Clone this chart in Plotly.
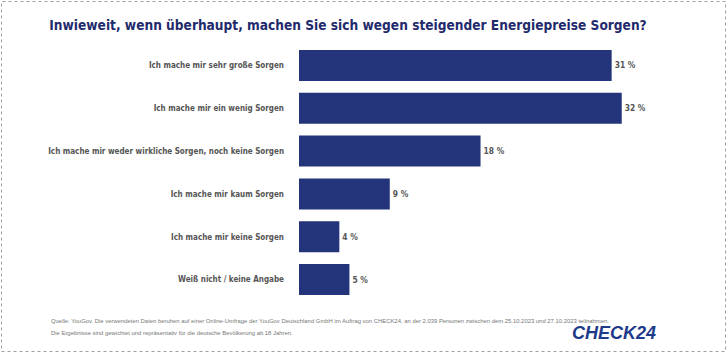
import plotly.graph_objects as go

categories = [
    "Ich mache mir sehr große Sorgen",
    "Ich mache mir ein wenig Sorgen",
    "Ich mache mir weder wirkliche Sorgen, noch keine Sorgen",
    "Ich mache mir kaum Sorgen",
    "Ich mache mir keine Sorgen",
    "Weiß nicht / keine Angabe",
]
values = [31, 32, 18, 9, 4, 5]
value_labels = [f"{v} %" for v in values]

title_text = "Inwieweit, wenn überhaupt, machen Sie sich wegen steigender Energiepreise Sorgen?"
source_lines = [
    "Quelle: YouGov. Die verwendeten Daten beruhen auf einer Online-Umfrage der YouGov Deutschland GmbH im Auftrag von CHECK24, an der 2.039 Personen zwischen dem 25.10.2023 und 27.10.2023 teilnahmen.",
    "Die Ergebnisse sind gewichtet und repräsentativ für die deutsche Bevölkerung ab 18 Jahren.",
]

W, H = 728, 353
ML, MR, MT, MB = 299, 76, 44, 52
PW, PH = W - ML - MR, H - MT - MB

def px_x(x):
    return (x - ML) / PW

def px_y(y):
    return (H - MB - y) / PH

NAVY = "#24347A"
GRAY = "#555555"
COND = "DejaVu Sans Condensed, sans-serif"

fig = go.Figure()
fig.add_trace(go.Bar(
    x=values,
    y=categories,
    orientation="h",
    marker=dict(color=NAVY, line=dict(width=0)),
    text=value_labels,
    textposition="outside",
    textfont=dict(family=COND, size=8.4, color=GRAY, weight="bold"),
    cliponaxis=False,
    hoverinfo="skip",
))

fig.update_layout(
    width=W, height=H,
    margin=dict(l=ML, r=MR, t=MT, b=MB, autoexpand=False),
    paper_bgcolor="white",
    plot_bgcolor="white",
    bargap=0.275,
    showlegend=False,
    title=dict(
        text=title_text,
        font=dict(family=COND, size=13.6, color="#1F2B6C", weight="bold"),
        xref="container", x=348 / W, xanchor="center",
        yref="container", y=1 - 25 / H, yanchor="middle",
    ),
    xaxis=dict(range=[0, 35], visible=False, fixedrange=True, automargin=False),
    yaxis=dict(
        autorange="reversed", automargin=False,
        showgrid=False, zeroline=False, showline=False,
        ticks="", ticklabelstandoff=14,
        tickfont=dict(family=COND, size=8.0, color=GRAY, weight="bold"),
    ),
)

# source footnote
for i, line in enumerate(source_lines):
    fig.add_annotation(
        text=line, xref="paper", yref="paper",
        x=px_x(49), y=px_y(321 + 12 * i),
        xanchor="left", yanchor="middle", showarrow=False,
        font=dict(family="Liberation Sans, Arial, sans-serif", size=5.9, color="#777777"),
    )

# logo text
fig.add_annotation(
    text="<b><i>CHECK24</i></b>", xref="paper", yref="paper",
    x=px_x(614), y=px_y(333), xanchor="center", yanchor="middle",
    showarrow=False,
    font=dict(family="Liberation Sans, Arial, sans-serif", size=18, color="#1E3A8A"),
)

# dashed frame
fig.add_shape(
    type="rect", xref="paper", yref="paper",
    x0=px_x(1.5), x1=px_x(725.5), y0=px_y(351.5), y1=px_y(1.5),
    line=dict(color="#A0A0A0", width=1, dash="dot"),
    fillcolor="rgba(0,0,0,0)", layer="below",
)

fig.write_html("out.html")
